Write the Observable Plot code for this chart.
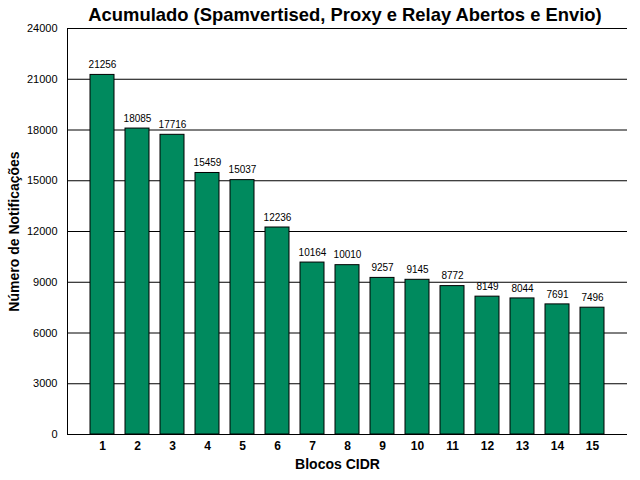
<!DOCTYPE html>
<html>
<head>
<meta charset="utf-8">
<script src="https://cdn.jsdelivr.net/npm/d3@7"></script>
<script src="https://cdn.jsdelivr.net/npm/@observablehq/plot@0.6"></script>
<style>
  html, body { margin: 0; padding: 0; background: #fff; }
  #title { height: 22px; width: 640px; box-sizing: border-box; padding-left: 50px; text-align: center;
    font: bold 18.4px "Liberation Sans", Arial, sans-serif; line-height: 30px; color: #000; white-space: nowrap; }
  svg { display: block; }
</style>
</head>
<body>
<div id="title">Acumulado (Spamvertised, Proxy e Relay Abertos e Envio)</div>
<div id="chart"></div>
<script>
const blocks = ["1","2","3","4","5","6","7","8","9","10","11","12","13","14","15"];
const counts = [21256, 18085, 17716, 15459, 15037, 12236, 10164, 10010, 9257, 9145, 8772, 8149, 8044, 7691, 7496];
const yTicks = [0, 3000, 6000, 9000, 12000, 15000, 18000, 21000, 24000];
const xLabel = "Blocos CIDR";
const yLabel = "Número de Notificações";

const data = blocks.map((b, i) => ({block: b, count: counts[i]}));
const font = "Liberation Sans, Arial, sans-serif";

const chart = Plot.plot({
  width: 640,
  height: 458,
  marginLeft: 67,
  marginRight: 13,
  marginTop: 6,
  marginBottom: 46,
  style: {fontFamily: font, background: "#fff", color: "#000"},
  x: {domain: blocks, paddingInner: 0.31, paddingOuter: 0.655},
  y: {domain: [0, 24000]},
  marks: [
    Plot.ruleY(yTicks, {stroke: "#000", strokeWidth: 1}),
    Plot.frame({anchor: "left", stroke: "#000"}),
    Plot.barY(data, {x: "block", y: "count", fill: "#008A5E", stroke: "#000", strokeWidth: 1}),
    Plot.text(data, {x: "block", y: "count", text: d => String(d.count), dy: -10, fontSize: 10, fill: "#000"}),
    Plot.axisY(yTicks, {tickSize: 0, tickPadding: 10, fontSize: 11, label: null, tickFormat: d => String(d)}),
    Plot.axisX({tickSize: 0, tickPadding: 7, fontSize: 12, fontWeight: "bold", label: null}),
    Plot.text([xLabel], {frameAnchor: "bottom", dx: -10, dy: 34, fontSize: 14, fontWeight: "bold", fill: "#000"}),
    Plot.text([yLabel], {frameAnchor: "left", dx: -53, rotate: -90, textAnchor: "middle", fontSize: 14, fontWeight: "bold", fill: "#000"})
  ]
});
document.getElementById("chart").appendChild(chart);
</script>
</body>
</html>
